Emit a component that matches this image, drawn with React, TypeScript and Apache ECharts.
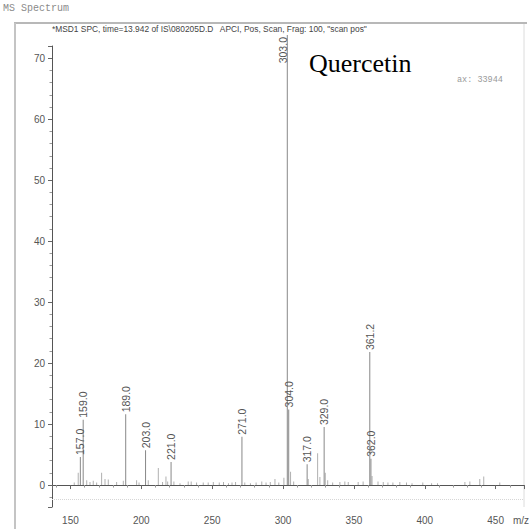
import React, { useEffect, useRef } from "react";
import * as echarts from "echarts";

// Labelled ions: m/z and relative abundance
const labeledMz = [157.0, 159.0, 189.0, 203.0, 221.0, 271.0, 303.0, 304.0, 317.0, 329.0, 361.2, 362.0];
const labeledAbundance = [4.6, 10.7, 11.6, 5.7, 3.8, 7.9, 73.8, 12.4, 3.4, 9.5, 21.8, 4.3];

// Unlabelled background ions [m/z, abundance]
const minorPeaks: [number, number][] = [
  [152.7, 0.4], [155.5, 2.0], [161.5, 0.8], [163.8, 0.5], [166.1, 0.7], [168.5, 0.4],
  [172.0, 2.0], [174.4, 1.0], [176.7, 0.9], [182.6, 0.5], [187.3, 0.7], [196.7, 0.8],
  [198.4, 0.4], [204.9, 0.8], [212.0, 2.8], [215.0, 0.5], [217.4, 1.4], [218.6, 0.6],
  [223.0, 0.6], [227.3, 0.3], [233.1, 0.6], [235.2, 0.6], [239.0, 0.4], [243.7, 0.4],
  [247.2, 0.4], [250.8, 0.5], [255.0, 0.4], [258.0, 0.5], [261.5, 0.3], [264.0, 0.4],
  [266.5, 0.5], [273.0, 0.4], [277.0, 0.3], [281.0, 0.4], [285.0, 0.6], [288.0, 0.4],
  [291.0, 0.5], [294.3, 1.0], [297.0, 0.4], [300.6, 1.2], [305.3, 2.2], [307.5, 0.6],
  [317.8, 1.0], [324.4, 5.2], [326.0, 1.3], [329.8, 2.0], [331.5, 0.8], [335.0, 0.4],
  [340.1, 0.5], [343.6, 0.6], [346.0, 0.5], [353.0, 0.5], [356.5, 0.6], [362.8, 1.5],
  [367.0, 0.6], [370.7, 0.5], [374.0, 0.4], [377.5, 0.4], [382.4, 0.5], [387.1, 0.4],
  [391.0, 0.3], [398.6, 0.4], [404.8, 0.3], [409.0, 0.3], [428.3, 0.5], [431.8, 0.6],
  [438.8, 1.0], [441.6, 1.4], [452.9, 0.4],
];

const yRange = [-3.6, 72];
const xRange = [137, 470];

const title = "MS Spectrum";
const subtitle =
  '*MSD1 SPC, time=13.942 of IS\\080205D.D   APCI, Pos, Scan, Frag: 100, "scan pos"';
const compoundName = "Quercetin";
const maxText = "ax: 33944";

const SANS = "'Liberation Sans', Arial, sans-serif";
const MONO = "'Liberation Mono', 'DejaVu Sans Mono', monospace";
const SERIF = "'Liberation Serif', 'Times New Roman', serif";

export default function App() {
  const ref = useRef<HTMLDivElement>(null);

  useEffect(() => {
    if (!ref.current) return;
    const chart = echarts.init(ref.current, undefined, { renderer: "svg" });

    const labeledData = labeledMz.map((mz, i) => {
      const item: any = { value: [mz, labeledAbundance[i]], name: mz.toFixed(1) };
      if (mz === 303.0) {
        // base peak runs off the top: label sits beside the line
        item.label = {
          position: [-4, 2],
          align: "right",
          verticalAlign: "middle",
          rotate: 90,
        };
      }
      return item;
    });

    chart.setOption({
      animation: false,
      backgroundColor: "#ffffff",
      grid: { left: 52, right: 5, top: 46, bottom: 22, containLabel: false },
      xAxis: {
        type: "value",
        min: xRange[0],
        max: xRange[1],
        splitNumber: 7,
        axisLine: { show: true, lineStyle: { color: "#555", width: 1 } },
        axisTick: { show: true, length: 4, lineStyle: { color: "#666" } },
        minorTick: { show: true, splitNumber: 5, length: 2.5, lineStyle: { color: "#999" } },
        splitLine: { show: false },
        axisLabel: {
          margin: 8,
          color: "#555",
          fontSize: 10,
          fontFamily: SANS,
          formatter: (v: number) => (Math.abs(v % 50) < 1e-6 ? String(v) : ""),
        },
      },
      yAxis: {
        type: "value",
        min: yRange[0],
        max: yRange[1],
        splitNumber: 8,
        axisLine: { show: true, lineStyle: { color: "#555", width: 1 } },
        axisTick: { show: true, length: 4, lineStyle: { color: "#666" } },
        minorTick: { show: true, splitNumber: 5, length: 2.5, lineStyle: { color: "#999" } },
        splitLine: { show: false },
        axisLabel: {
          margin: 7,
          color: "#555",
          fontSize: 10,
          fontFamily: SANS,
          formatter: (v: number) => (Math.abs(v % 10) < 1e-6 ? String(v) : ""),
        },
      },
      series: [
        {
          type: "bar",
          name: "background",
          barWidth: 1,
          clip: false,
          itemStyle: { color: "#b0b0b0" },
          data: minorPeaks.map((p) => ({ value: p })),
          markLine: {
            silent: true,
            symbol: "none",
            label: { show: false },
            lineStyle: { color: "#d6d6d6", type: "dotted", width: 1 },
            data: [{ yAxis: -2.3 }],
          },
        },
        {
          type: "bar",
          name: "ions",
          barWidth: 1,
          barGap: "-100%",
          clip: false,
          itemStyle: { color: "#888888" },
          label: {
            show: true,
            position: "top",
            rotate: 90,
            align: "left",
            verticalAlign: "middle",
            distance: 2,
            color: "#555",
            fontSize: 10.5,
            fontFamily: SANS,
            formatter: (p: any) => p.name,
          },
          data: labeledData,
        },
      ],
      graphic: [
        {
          type: "line",
          shape: { x1: 14, y1: 23, x2: 527, y2: 23 },
          style: { stroke: "#b8b8b8", lineWidth: 2 },
          silent: true,
        },
        {
          type: "line",
          shape: { x1: 15, y1: 23, x2: 15, y2: 529 },
          style: { stroke: "#c4c4c4", lineWidth: 2 },
          silent: true,
        },
        {
          type: "line",
          shape: { x1: 524, y1: 24, x2: 524, y2: 507 },
          style: { stroke: "#dcdcdc", lineWidth: 1 },
          silent: true,
        },
        {
          type: "text",
          x: 3,
          y: 8,
          style: {
            text: title,
            font: `10px ${MONO}`,
            fill: "#8a8a8a",
            verticalAlign: "middle",
          },
        },
        {
          type: "text",
          x: 52,
          y: 29,
          style: {
            text: subtitle,
            font: `8.4px ${SANS}`,
            fill: "#444",
            verticalAlign: "middle",
          },
        },
        {
          type: "text",
          x: 309,
          y: 63,
          style: {
            text: compoundName,
            font: `26px ${SERIF}`,
            fill: "#000",
            verticalAlign: "middle",
          },
        },
        {
          type: "text",
          x: 457,
          y: 80,
          style: {
            text: maxText,
            font: `8.5px ${MONO}`,
            fill: "#999",
            verticalAlign: "middle",
          },
        },
        {
          type: "text",
          x: 513,
          y: 520,
          style: {
            text: "m/z",
            font: `10px ${SANS}`,
            fill: "#555",
            verticalAlign: "middle",
          },
        },
      ],
    });

    return () => chart.dispose();
  }, []);

  return (
    <div
      ref={ref}
      style={{ position: "fixed", left: 0, top: 0, width: 529, height: 529 }}
    />
  );
}
